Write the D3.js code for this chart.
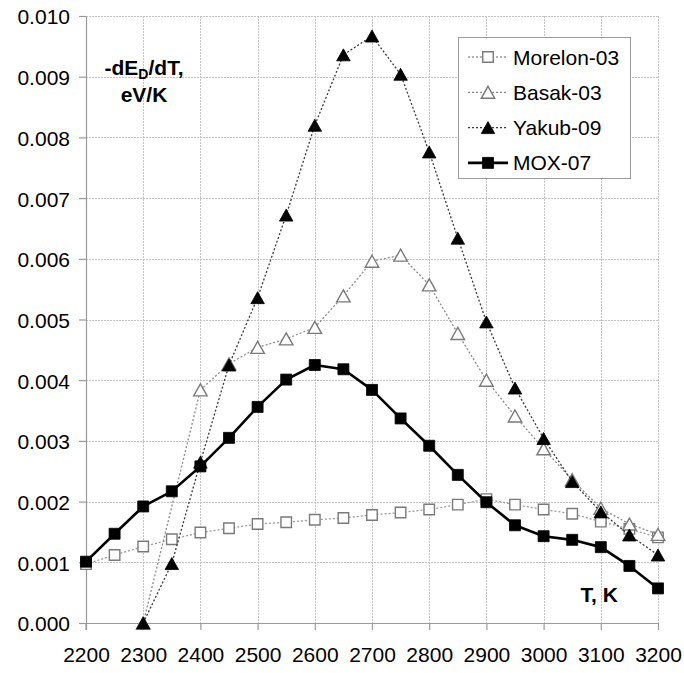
<!DOCTYPE html>
<html>
<head>
<meta charset="utf-8">
<script src="https://cdn.jsdelivr.net/npm/d3@7"></script>
<style>
  html, body { margin: 0; padding: 0; background: #fff; }
  svg { display: block; font-family: "Liberation Sans", Arial, sans-serif; }
</style>
</head>
<body>
<svg id="chart" width="684" height="673"></svg>
<script>
// Temperature grid, K
const temps = [2200, 2250, 2300, 2350, 2400, 2450, 2500, 2550, 2600, 2650, 2700,
               2750, 2800, 2850, 2900, 2950, 3000, 3050, 3100, 3150, 3200];

// -dE_D/dT, eV/K (null = no value at that temperature)
const morelon03 = [0.00097, 0.00112, 0.00126, 0.00138, 0.00149, 0.00156, 0.00163, 0.00166, 0.00170, 0.00173, 0.00178,
                   0.00182, 0.00187, 0.00195, 0.00204, 0.00195, 0.00187, 0.00180, 0.00167, 0.00155, 0.00141];
const basak03   = [null, null, 0.00000, null, 0.00384, 0.00427, 0.00454, 0.00468, 0.00487, 0.00539, 0.00596,
                   0.00606, 0.00557, 0.00477, 0.00400, 0.00341, 0.00287, 0.00236, 0.00189, 0.00163, 0.00146];
const yakub09   = [null, null, 0.00000, 0.00098, 0.00265, 0.00425, 0.00536, 0.00672, 0.00820, 0.00936, 0.00967,
                   0.00904, 0.00776, 0.00634, 0.00496, 0.00387, 0.00304, 0.00233, 0.00183, 0.00145, 0.00112];
const mox07     = [0.00101, 0.00147, 0.00192, 0.00217, 0.00258, 0.00305, 0.00356, 0.00401, 0.00425, 0.00418, 0.00384,
                   0.00337, 0.00292, 0.00244, 0.00199, 0.00161, 0.00143, 0.00137, 0.00125, 0.00094, 0.00057];

const seriesNames = ["Morelon-03", "Basak-03", "Yakub-09", "MOX-07"];
const xTicks = [2200, 2300, 2400, 2500, 2600, 2700, 2800, 2900, 3000, 3100, 3200];
const yTicks = [0, 0.001, 0.002, 0.003, 0.004, 0.005, 0.006, 0.007, 0.008, 0.009, 0.010];

// Drawing styles per series
const styles = [
  { line: "#9a9a9a", width: 1.3, dash: "2,2", marker: "square",   fill: "#fff", stroke: "#7a7a7a" },
  { line: "#8a8a8a", width: 1.3, dash: "2,2", marker: "triangle", fill: "#fff", stroke: "#7a7a7a" },
  { line: "#3a3a3a", width: 1.3, dash: "2,2", marker: "triangle", fill: "#000", stroke: "#000" },
  { line: "#000",    width: 2.6, dash: null,  marker: "square",   fill: "#000", stroke: "#000" }
];
const seriesValues = [morelon03, basak03, yakub09, mox07];

const svg = d3.select("#chart");
const FONT = 21;

const x = d3.scaleLinear().domain([2200, 3200]).range([86, 658]);
const y = d3.scaleLinear().domain([0, 0.010]).range([623, 16]);

// Grid
const grid = svg.append("g").attr("stroke", "#c4c4c4").attr("stroke-width", 1).attr("stroke-dasharray", "2,1");
grid.selectAll("line.h").data(yTicks.slice(1)).join("line")
  .attr("x1", x(2200)).attr("x2", x(3200))
  .attr("y1", d => Math.round(y(d)) + 0.5).attr("y2", d => Math.round(y(d)) + 0.5);
grid.selectAll("line.v").data(xTicks.slice(1)).join("line")
  .attr("y1", y(0.010)).attr("y2", y(0))
  .attr("x1", d => Math.round(x(d)) + 0.5).attr("x2", d => Math.round(x(d)) + 0.5);

// Axes
const yAxis = d3.axisLeft(y).tickValues(yTicks).tickFormat(d3.format(".3f"))
  .tickSize(7).tickSizeOuter(0).tickPadding(9);
const xAxis = d3.axisBottom(x).tickValues(xTicks).tickFormat(d3.format("d"))
  .tickSize(7).tickSizeOuter(0).tickPadding(17);

const gy = svg.append("g").attr("transform", `translate(${x(2200)},0)`).call(yAxis);
const gx = svg.append("g").attr("transform", `translate(0,${y(0)})`).call(xAxis);
[gx, gy].forEach(g => {
  g.select(".domain").attr("stroke", "#9a9a9a").attr("stroke-width", 1.2);
  g.selectAll(".tick line").attr("stroke", "#9a9a9a").attr("stroke-width", 1.2);
  g.selectAll(".tick text").attr("fill", "#000").attr("font-size", FONT)
    .attr("font-family", "'Liberation Sans', Arial, sans-serif");
});
gy.selectAll(".tick text").attr("dy", "0.38em");
// left axis continues below the baseline like the tick marks
gy.append("line").attr("x1", 0).attr("x2", 0).attr("y1", y(0)).attr("y2", y(0) + 7)
  .attr("stroke", "#9a9a9a").attr("stroke-width", 1.2);

// Marker shapes
const squarePath = s => `M${-s/2},${-s/2}H${s/2}V${s/2}H${-s/2}Z`;
const trianglePath = (w, h) => `M0,${-h/2}L${w/2},${h/2}L${-w/2},${h/2}Z`;
function markerPath(st) {
  if (st.marker === "square") return st.fill === "#fff" ? squarePath(10.5) : squarePath(11);
  return trianglePath(13.5, 12);
}

// Series lines and markers
const line = d3.line().x(d => x(d.t)).y(d => y(d.v));
seriesValues.forEach((vals, i) => {
  const st = styles[i];
  const pts = temps.map((t, j) => ({ t, v: vals[j] })).filter(d => d.v !== null);
  const g = svg.append("g");
  g.append("path").datum(pts).attr("d", line)
    .attr("fill", "none").attr("stroke", st.line).attr("stroke-width", st.width)
    .attr("stroke-dasharray", st.dash).attr("stroke-linejoin", "round");
  g.selectAll("path.m").data(pts).join("path").attr("class", "m")
    .attr("transform", d => `translate(${x(d.t)},${y(d.v)})`)
    .attr("d", markerPath(st))
    .attr("fill", st.fill).attr("stroke", st.stroke).attr("stroke-width", st.fill === "#fff" ? 1.4 : 0.8);
});

// Axis titles
const title = svg.append("text").attr("x", 144).attr("y", 75).attr("text-anchor", "middle")
  .attr("font-size", FONT).attr("font-weight", "bold").attr("fill", "#000");
title.append("tspan").text("-dE");
title.append("tspan").attr("font-size", 14).attr("dy", 4).text("D");
title.append("tspan").attr("dy", -4).text("/dT,");
svg.append("text").attr("x", 144).attr("y", 102).attr("text-anchor", "middle")
  .attr("font-size", FONT).attr("font-weight", "bold").attr("fill", "#000").text("eV/K");
svg.append("text").attr("x", 580.5).attr("y", 601.5)
  .attr("font-size", FONT).attr("font-weight", "bold").attr("fill", "#000").text("T, K");

// Legend
const legend = svg.append("g");
legend.append("rect").attr("x", 458.5).attr("y", 37.5).attr("width", 172).attr("height", 141)
  .attr("fill", "#fff").attr("stroke", "#9a9a9a").attr("stroke-width", 1);
seriesNames.forEach((name, i) => {
  const st = styles[i];
  const cy = 57 + i * 35.3;
  legend.append("line").attr("x1", 468).attr("x2", 508).attr("y1", cy).attr("y2", cy)
    .attr("stroke", st.line).attr("stroke-width", st.width).attr("stroke-dasharray", st.dash);
  legend.append("path").attr("transform", `translate(488,${cy})`).attr("d", markerPath(st))
    .attr("fill", st.fill).attr("stroke", st.stroke).attr("stroke-width", st.fill === "#fff" ? 1.4 : 0.8);
  legend.append("text").attr("x", 513).attr("y", cy).attr("dy", "0.36em")
    .attr("font-size", FONT).attr("fill", "#000").text(name);
});
</script>
</body>
</html>
